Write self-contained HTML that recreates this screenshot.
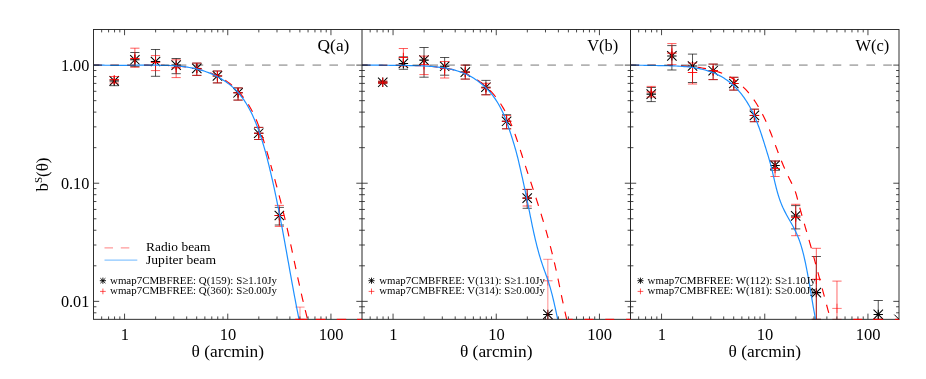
<!DOCTYPE html><html><head><meta charset="utf-8"><title>beam profiles</title>
<style>html,body{margin:0;padding:0;background:#fff}svg{display:block}text{font-family:"Liberation Serif",serif;fill:#000}svg{will-change:transform;opacity:.999}</style></head><body>
<svg width="926" height="379" viewBox="0 0 926 379">
<rect width="926" height="379" fill="#fff"/>
<defs>
<clipPath id="c0"><rect x="93.5" y="29.5" width="268.5" height="290.43"/></clipPath>
<clipPath id="c1"><rect x="362.0" y="29.5" width="268.5" height="290.43"/></clipPath>
<clipPath id="c2"><rect x="630.5" y="29.5" width="268.5" height="290.43"/></clipPath>
</defs>
<g clip-path="url(#c0)">
<path d="M114.24,79.90V85.70 M109.64,79.90H118.84 M109.64,85.70H118.84" fill="none" stroke="#000" stroke-width="0.9" stroke-opacity="0.75"/>
<path d="M109.54,80.90H118.94 M114.24,76.20V85.60 M109.54,76.20L118.94,85.60 M109.54,85.60L118.94,76.20" fill="none" stroke="#000" stroke-width="1.05"/>
<path d="M134.88,52.50V66.40 M130.28,52.50H139.48 M130.28,66.40H139.48" fill="none" stroke="#000" stroke-width="0.9" stroke-opacity="0.75"/>
<path d="M130.18,59.80H139.58 M134.88,55.10V64.50 M130.18,55.10L139.58,64.50 M130.18,64.50L139.58,55.10" fill="none" stroke="#000" stroke-width="1.05"/>
<path d="M155.52,49.50V76.30 M150.92,49.50H160.12 M150.92,76.30H160.12" fill="none" stroke="#000" stroke-width="0.9" stroke-opacity="0.75"/>
<path d="M150.82,61.50H160.22 M155.52,56.80V66.20 M150.82,56.80L160.22,66.20 M150.82,66.20L160.22,56.80" fill="none" stroke="#000" stroke-width="1.05"/>
<path d="M176.16,58.50V73.70 M171.56,58.50H180.75 M171.56,73.70H180.75" fill="none" stroke="#000" stroke-width="0.9" stroke-opacity="0.75"/>
<path d="M171.46,65.10H180.85 M176.16,60.40V69.80 M171.46,60.40L180.85,69.80 M171.46,69.80L180.85,60.40" fill="none" stroke="#000" stroke-width="1.05"/>
<path d="M196.79,63.10V75.40 M192.19,63.10H201.39 M192.19,75.40H201.39" fill="none" stroke="#000" stroke-width="0.9" stroke-opacity="0.75"/>
<path d="M192.09,68.40H201.49 M196.79,63.70V73.10 M192.09,63.70L201.49,73.10 M192.09,73.10L201.49,63.70" fill="none" stroke="#000" stroke-width="1.05"/>
<path d="M217.43,71.00V82.90 M212.83,71.00H222.03 M212.83,82.90H222.03" fill="none" stroke="#000" stroke-width="0.9" stroke-opacity="0.75"/>
<path d="M212.73,75.90H222.13 M217.43,71.20V80.60 M212.73,71.20L222.13,80.60 M212.73,80.60L222.13,71.20" fill="none" stroke="#000" stroke-width="1.05"/>
<path d="M238.07,87.90V100.10 M233.47,87.90H242.67 M233.47,100.10H242.67" fill="none" stroke="#000" stroke-width="0.9" stroke-opacity="0.75"/>
<path d="M233.37,92.80H242.77 M238.07,88.10V97.50 M233.37,88.10L242.77,97.50 M233.37,97.50L242.77,88.10" fill="none" stroke="#000" stroke-width="1.05"/>
<path d="M258.71,127.40V139.50 M254.11,127.40H263.31 M254.11,139.50H263.31" fill="none" stroke="#000" stroke-width="0.9" stroke-opacity="0.75"/>
<path d="M254.01,133.20H263.41 M258.71,128.50V137.90 M254.01,128.50L263.41,137.90 M254.01,137.90L263.41,128.50" fill="none" stroke="#000" stroke-width="1.05"/>
<path d="M279.35,207.40V225.00 M274.75,207.40H283.95 M274.75,225.00H283.95" fill="none" stroke="#000" stroke-width="0.9" stroke-opacity="0.75"/>
<path d="M274.65,215.50H284.05 M279.35,210.80V220.20 M274.65,210.80L284.05,220.20 M274.65,220.20L284.05,210.80" fill="none" stroke="#000" stroke-width="1.05"/>
<path d="M114.24,76.50V83.00 M109.64,76.50H118.84 M109.64,83.00H118.84" fill="none" stroke="#ff0000" stroke-width="0.9" stroke-opacity="0.7"/>
<path d="M109.54,79.70H118.94 M114.24,75.00V84.40" fill="none" stroke="#ff0000" stroke-width="0.9" stroke-opacity="1"/>
<path d="M134.88,48.20V67.30 M130.28,48.20H139.48 M130.28,67.30H139.48" fill="none" stroke="#ff0000" stroke-width="0.9" stroke-opacity="0.7"/>
<path d="M130.18,58.50H139.58 M134.88,53.80V63.20" fill="none" stroke="#ff0000" stroke-width="0.9" stroke-opacity="1"/>
<path d="M155.52,55.60V70.60 M150.92,55.60H160.12 M150.92,70.60H160.12" fill="none" stroke="#ff0000" stroke-width="0.9" stroke-opacity="0.7"/>
<path d="M150.82,62.40H160.22 M155.52,57.70V67.10" fill="none" stroke="#ff0000" stroke-width="0.9" stroke-opacity="1"/>
<path d="M176.16,59.80V77.60 M171.56,59.80H180.75 M171.56,77.60H180.75" fill="none" stroke="#ff0000" stroke-width="0.9" stroke-opacity="0.7"/>
<path d="M171.46,67.80H180.85 M176.16,63.10V72.50" fill="none" stroke="#ff0000" stroke-width="0.9" stroke-opacity="1"/>
<path d="M196.79,63.10V75.40 M192.19,63.10H201.39 M192.19,75.40H201.39" fill="none" stroke="#ff0000" stroke-width="0.9" stroke-opacity="0.7"/>
<path d="M192.09,68.40H201.49 M196.79,63.70V73.10" fill="none" stroke="#ff0000" stroke-width="0.9" stroke-opacity="1"/>
<path d="M217.43,71.00V82.90 M212.83,71.00H222.03 M212.83,82.90H222.03" fill="none" stroke="#ff0000" stroke-width="0.9" stroke-opacity="0.7"/>
<path d="M212.73,75.90H222.13 M217.43,71.20V80.60" fill="none" stroke="#ff0000" stroke-width="0.9" stroke-opacity="1"/>
<path d="M238.07,87.90V100.10 M233.47,87.90H242.67 M233.47,100.10H242.67" fill="none" stroke="#ff0000" stroke-width="0.9" stroke-opacity="0.7"/>
<path d="M233.37,92.80H242.77 M238.07,88.10V97.50" fill="none" stroke="#ff0000" stroke-width="0.9" stroke-opacity="1"/>
<path d="M258.71,127.40V139.50 M254.11,127.40H263.31 M254.11,139.50H263.31" fill="none" stroke="#ff0000" stroke-width="0.9" stroke-opacity="0.7"/>
<path d="M254.01,133.20H263.41 M258.71,128.50V137.90" fill="none" stroke="#ff0000" stroke-width="0.9" stroke-opacity="1"/>
<path d="M279.35,205.40V226.40 M274.75,205.40H283.95 M274.75,226.40H283.95" fill="none" stroke="#ff0000" stroke-width="0.9" stroke-opacity="0.7"/>
<path d="M274.65,215.50H284.05 M279.35,210.80V220.20" fill="none" stroke="#ff0000" stroke-width="0.9" stroke-opacity="1"/>
<path d="M299.98,307.10V319.30 M295.38,307.10H304.58 M295.38,319.30H304.58" fill="none" stroke="#ff0000" stroke-width="0.9" stroke-opacity="0.5"/>
<path d="M295.28,330.00H304.68 M299.98,325.30V334.70" fill="none" stroke="#ff0000" stroke-width="0.9" stroke-opacity="0.6"/>
<clipPath id="r0_0"><rect x="93.5" y="29.5" width="268.5" height="135.5"/></clipPath>
<path clip-path="url(#r0_0)" d="M93.50,65.10 L95.46,65.13 L97.42,65.16 L99.38,65.18 L101.35,65.20 L103.33,65.22 L105.31,65.24 L107.29,65.25 L109.28,65.26 L111.27,65.27 L113.27,65.27 L115.27,65.27 L117.27,65.28 L119.27,65.27 L121.28,65.27 L123.29,65.27 L125.31,65.26 L127.32,65.26 L129.34,65.25 L131.36,65.24 L133.38,65.23 L135.40,65.22 L137.42,65.21 L139.45,65.21 L141.47,65.20 L143.49,65.19 L145.52,65.19 L147.54,65.19 L149.57,65.20 L151.59,65.21 L153.61,65.22 L155.63,65.25 L157.65,65.27 L159.67,65.31 L161.69,65.35 L163.70,65.40 L165.72,65.46 L167.73,65.53 L169.74,65.61 L171.74,65.71 L173.74,65.83 L175.74,65.96 L177.74,66.11 L179.73,66.28 L181.71,66.47 L183.70,66.68 L185.68,66.92 L187.65,67.19 L189.62,67.48 L191.58,67.80 L193.54,68.16 L195.49,68.55 L197.44,68.98 L199.38,69.44 L201.32,69.94 L203.24,70.47 L205.15,71.05 L207.05,71.66 L208.93,72.32 L210.80,73.02 L212.65,73.75 L214.48,74.53 L216.28,75.36 L218.07,76.22 L219.82,77.13 L221.55,78.09 L223.26,79.09 L224.93,80.13 L226.56,81.22 L228.17,82.36 L229.74,83.55 L231.27,84.78 L232.78,86.05 L234.24,87.36 L235.68,88.71 L237.08,90.10 L238.44,91.53 L239.77,92.99 L241.06,94.48 L242.32,96.01 L243.55,97.56 L244.74,99.15 L245.89,100.76 L247.01,102.40 L248.10,104.07 L249.15,105.75 L250.16,107.46 L251.14,109.19 L252.08,110.93 L252.99,112.70 L253.87,114.48 L254.72,116.27 L255.53,118.09 L256.33,119.91 L257.09,121.75 L257.83,123.61 L258.55,125.47 L259.25,127.35 L259.93,129.23 L260.59,131.12 L261.23,133.03 L261.86,134.94 L262.48,136.85 L263.08,138.78 L263.68,140.70 L264.26,142.63 L264.84,144.57 L265.41,146.50 L265.98,148.44 L266.55,150.38 L267.11,152.32 L267.67,154.25 L268.23,156.19 L268.79,158.13 L269.35,160.07 L269.91,162.00 L270.46,163.94 L271.01,165.88 L271.56,167.81 L272.11,169.75 L272.65,171.69 L273.19,173.62 L273.73,175.56 L274.27,177.49 L274.80,179.43 L275.34,181.37 L275.86,183.30 L276.39,185.24 L276.91,187.17 L277.43,189.11 L277.95,191.05 L278.46,192.98 L278.97,194.92 L279.48,196.86 L279.98,198.79 L280.48,200.73 L280.97,202.66 L281.46,204.60 L281.95,206.54 L282.43,208.47 L282.91,210.41 L283.38,212.35 L283.85,214.28 L284.32,216.22 L284.78,218.16 L285.24,220.09 L285.70,222.03 L286.15,223.97 L286.59,225.91 L287.04,227.85 L287.48,229.78 L287.91,231.72 L288.34,233.66 L288.77,235.60 L289.20,237.54 L289.62,239.48 L290.04,241.42 L290.46,243.36 L290.88,245.30 L291.30,247.24 L291.71,249.18 L292.12,251.12 L292.53,253.06 L292.95,255.00 L293.36,256.94 L293.77,258.88 L294.18,260.83 L294.59,262.77 L295.00,264.71 L295.42,266.66 L295.83,268.60 L296.24,270.54 L296.66,272.49 L297.08,274.43 L297.50,276.38 L297.92,278.33 L298.34,280.27 L298.77,282.22 L299.20,284.17 L299.63,286.11 L300.06,288.06 L300.50,290.01 L300.94,291.96 L301.38,293.91 L301.83,295.86 L302.28,297.81 L302.74,299.76 L303.20,301.71 L303.66,303.66 L304.13,305.62 L304.60,307.57 L305.08,309.52 L305.56,311.48 L306.05,313.43 L306.54,315.39 L307.04,317.34 L307.55,319.30" fill="none" stroke="#ff0000" stroke-width="1.15" stroke-dasharray="8.5 8.3" stroke-dashoffset="0"/>
<clipPath id="r0_1"><rect x="93.5" y="165" width="268.5" height="155.32999999999998"/></clipPath>
<path clip-path="url(#r0_1)" d="M93.50,65.10 L95.46,65.13 L97.42,65.16 L99.38,65.18 L101.35,65.20 L103.33,65.22 L105.31,65.24 L107.29,65.25 L109.28,65.26 L111.27,65.27 L113.27,65.27 L115.27,65.27 L117.27,65.28 L119.27,65.27 L121.28,65.27 L123.29,65.27 L125.31,65.26 L127.32,65.26 L129.34,65.25 L131.36,65.24 L133.38,65.23 L135.40,65.22 L137.42,65.21 L139.45,65.21 L141.47,65.20 L143.49,65.19 L145.52,65.19 L147.54,65.19 L149.57,65.20 L151.59,65.21 L153.61,65.22 L155.63,65.25 L157.65,65.27 L159.67,65.31 L161.69,65.35 L163.70,65.40 L165.72,65.46 L167.73,65.53 L169.74,65.61 L171.74,65.71 L173.74,65.83 L175.74,65.96 L177.74,66.11 L179.73,66.28 L181.71,66.47 L183.70,66.68 L185.68,66.92 L187.65,67.19 L189.62,67.48 L191.58,67.80 L193.54,68.16 L195.49,68.55 L197.44,68.98 L199.38,69.44 L201.32,69.94 L203.24,70.47 L205.15,71.05 L207.05,71.66 L208.93,72.32 L210.80,73.02 L212.65,73.75 L214.48,74.53 L216.28,75.36 L218.07,76.22 L219.82,77.13 L221.55,78.09 L223.26,79.09 L224.93,80.13 L226.56,81.22 L228.17,82.36 L229.74,83.55 L231.27,84.78 L232.78,86.05 L234.24,87.36 L235.68,88.71 L237.08,90.10 L238.44,91.53 L239.77,92.99 L241.06,94.48 L242.32,96.01 L243.55,97.56 L244.74,99.15 L245.89,100.76 L247.01,102.40 L248.10,104.07 L249.15,105.75 L250.16,107.46 L251.14,109.19 L252.08,110.93 L252.99,112.70 L253.87,114.48 L254.72,116.27 L255.53,118.09 L256.33,119.91 L257.09,121.75 L257.83,123.61 L258.55,125.47 L259.25,127.35 L259.93,129.23 L260.59,131.12 L261.23,133.03 L261.86,134.94 L262.48,136.85 L263.08,138.78 L263.68,140.70 L264.26,142.63 L264.84,144.57 L265.41,146.50 L265.98,148.44 L266.55,150.38 L267.11,152.32 L267.67,154.25 L268.23,156.19 L268.79,158.13 L269.35,160.07 L269.91,162.00 L270.46,163.94 L271.01,165.88 L271.56,167.81 L272.11,169.75 L272.65,171.69 L273.19,173.62 L273.73,175.56 L274.27,177.49 L274.80,179.43 L275.34,181.37 L275.86,183.30 L276.39,185.24 L276.91,187.17 L277.43,189.11 L277.95,191.05 L278.46,192.98 L278.97,194.92 L279.48,196.86 L279.98,198.79 L280.48,200.73 L280.97,202.66 L281.46,204.60 L281.95,206.54 L282.43,208.47 L282.91,210.41 L283.38,212.35 L283.85,214.28 L284.32,216.22 L284.78,218.16 L285.24,220.09 L285.70,222.03 L286.15,223.97 L286.59,225.91 L287.04,227.85 L287.48,229.78 L287.91,231.72 L288.34,233.66 L288.77,235.60 L289.20,237.54 L289.62,239.48 L290.04,241.42 L290.46,243.36 L290.88,245.30 L291.30,247.24 L291.71,249.18 L292.12,251.12 L292.53,253.06 L292.95,255.00 L293.36,256.94 L293.77,258.88 L294.18,260.83 L294.59,262.77 L295.00,264.71 L295.42,266.66 L295.83,268.60 L296.24,270.54 L296.66,272.49 L297.08,274.43 L297.50,276.38 L297.92,278.33 L298.34,280.27 L298.77,282.22 L299.20,284.17 L299.63,286.11 L300.06,288.06 L300.50,290.01 L300.94,291.96 L301.38,293.91 L301.83,295.86 L302.28,297.81 L302.74,299.76 L303.20,301.71 L303.66,303.66 L304.13,305.62 L304.60,307.57 L305.08,309.52 L305.56,311.48 L306.05,313.43 L306.54,315.39 L307.04,317.34 L307.55,319.30" fill="none" stroke="#ff0000" stroke-width="1.15" stroke-dasharray="8.5 8.3" stroke-dashoffset="4.5"/>
<path d="M93.50,65.10 L95.50,65.13 L97.49,65.16 L99.48,65.18 L101.47,65.21 L103.45,65.22 L105.43,65.24 L107.41,65.26 L109.39,65.27 L111.37,65.28 L113.35,65.28 L115.33,65.29 L117.30,65.29 L119.28,65.29 L121.26,65.29 L123.25,65.29 L125.23,65.28 L127.22,65.28 L129.21,65.27 L131.21,65.26 L133.21,65.25 L135.21,65.23 L137.22,65.22 L139.23,65.21 L141.24,65.20 L143.26,65.19 L145.28,65.18 L147.30,65.17 L149.32,65.17 L151.34,65.17 L153.36,65.18 L155.39,65.20 L157.41,65.22 L159.43,65.24 L161.45,65.28 L163.47,65.32 L165.49,65.38 L167.50,65.44 L169.52,65.52 L171.52,65.62 L173.53,65.73 L175.53,65.87 L177.53,66.02 L179.52,66.20 L181.51,66.40 L183.49,66.62 L185.46,66.88 L187.43,67.16 L189.39,67.48 L191.35,67.82 L193.29,68.21 L195.23,68.62 L197.16,69.08 L199.08,69.58 L200.99,70.11 L202.89,70.69 L204.78,71.30 L206.65,71.95 L208.51,72.65 L210.34,73.38 L212.16,74.16 L213.96,74.97 L215.74,75.83 L217.50,76.72 L219.23,77.65 L220.94,78.63 L222.62,79.64 L224.27,80.70 L225.90,81.80 L227.49,82.93 L229.05,84.11 L230.58,85.33 L232.07,86.58 L233.52,87.88 L234.94,89.22 L236.32,90.60 L237.66,92.02 L238.96,93.49 L240.21,94.99 L241.43,96.52 L242.61,98.10 L243.75,99.70 L244.86,101.34 L245.93,103.01 L246.97,104.70 L247.98,106.42 L248.95,108.17 L249.90,109.94 L250.82,111.73 L251.71,113.54 L252.57,115.36 L253.41,117.20 L254.22,119.06 L255.01,120.92 L255.78,122.80 L256.53,124.68 L257.26,126.57 L257.97,128.47 L258.66,130.37 L259.33,132.27 L259.99,134.17 L260.64,136.08 L261.27,137.98 L261.88,139.90 L262.48,141.81 L263.07,143.73 L263.64,145.64 L264.21,147.56 L264.76,149.49 L265.30,151.41 L265.83,153.34 L266.35,155.26 L266.86,157.19 L267.36,159.12 L267.85,161.06 L268.34,162.99 L268.82,164.93 L269.29,166.86 L269.76,168.80 L270.22,170.74 L270.68,172.67 L271.13,174.61 L271.58,176.55 L272.03,178.50 L272.47,180.44 L272.90,182.38 L273.33,184.32 L273.76,186.27 L274.18,188.21 L274.60,190.16 L275.02,192.10 L275.43,194.05 L275.84,196.00 L276.24,197.95 L276.65,199.90 L277.05,201.84 L277.44,203.79 L277.83,205.74 L278.22,207.70 L278.61,209.65 L279.00,211.60 L279.38,213.55 L279.76,215.50 L280.13,217.46 L280.51,219.41 L280.88,221.37 L281.25,223.32 L281.62,225.28 L281.99,227.23 L282.35,229.19 L282.72,231.14 L283.08,233.10 L283.44,235.06 L283.80,237.02 L284.15,238.97 L284.51,240.93 L284.87,242.89 L285.22,244.85 L285.57,246.81 L285.93,248.77 L286.28,250.73 L286.63,252.68 L286.98,254.64 L287.33,256.60 L287.68,258.56 L288.03,260.52 L288.39,262.48 L288.74,264.44 L289.09,266.40 L289.44,268.36 L289.79,270.32 L290.14,272.28 L290.49,274.24 L290.85,276.21 L291.20,278.17 L291.56,280.13 L291.91,282.09 L292.27,284.05 L292.63,286.01 L292.99,287.97 L293.35,289.93 L293.71,291.89 L294.07,293.85 L294.44,295.80 L294.81,297.76 L295.18,299.72 L295.55,301.68 L295.92,303.64 L296.30,305.60 L296.68,307.56 L297.06,309.52 L297.44,311.47 L297.83,313.43 L298.22,315.39 L298.61,317.34 L299.00,319.30" fill="none" stroke="#1e90ff" stroke-width="1.2"/>
<line x1="93.5" y1="65.1" x2="362.0" y2="65.1" stroke="#000" stroke-opacity="0.3" stroke-width="1.6" stroke-dasharray="8.6 8.25"/>
</g>
<g clip-path="url(#c1)">
<path d="M382.74,81.30V83.40 M378.14,81.30H387.34 M378.14,83.40H387.34" fill="none" stroke="#000" stroke-width="0.9" stroke-opacity="0.75"/>
<path d="M378.04,82.30H387.44 M382.74,77.60V87.00 M378.04,77.60L387.44,87.00 M378.04,87.00L387.44,77.60" fill="none" stroke="#000" stroke-width="1.05"/>
<path d="M403.38,56.80V69.30 M398.78,56.80H407.98 M398.78,69.30H407.98" fill="none" stroke="#000" stroke-width="0.9" stroke-opacity="0.75"/>
<path d="M398.68,63.40H408.08 M403.38,58.70V68.10 M398.68,58.70L408.08,68.10 M398.68,68.10L408.08,58.70" fill="none" stroke="#000" stroke-width="1.05"/>
<path d="M424.02,47.50V77.20 M419.42,47.50H428.62 M419.42,77.20H428.62" fill="none" stroke="#000" stroke-width="0.9" stroke-opacity="0.75"/>
<path d="M419.32,60.10H428.72 M424.02,55.40V64.80 M419.32,55.40L428.72,64.80 M419.32,64.80L428.72,55.40" fill="none" stroke="#000" stroke-width="1.05"/>
<path d="M444.65,57.50V75.20 M440.05,57.50H449.25 M440.05,75.20H449.25" fill="none" stroke="#000" stroke-width="0.9" stroke-opacity="0.75"/>
<path d="M439.95,66.30H449.35 M444.65,61.60V71.00 M439.95,61.60L449.35,71.00 M439.95,71.00L449.35,61.60" fill="none" stroke="#000" stroke-width="1.05"/>
<path d="M465.29,65.10V79.10 M460.69,65.10H469.89 M460.69,79.10H469.89" fill="none" stroke="#000" stroke-width="0.9" stroke-opacity="0.75"/>
<path d="M460.59,72.10H469.99 M465.29,67.40V76.80 M460.59,67.40L469.99,76.80 M460.59,76.80L469.99,67.40" fill="none" stroke="#000" stroke-width="1.05"/>
<path d="M485.93,80.40V94.70 M481.33,80.40H490.53 M481.33,94.70H490.53" fill="none" stroke="#000" stroke-width="0.9" stroke-opacity="0.75"/>
<path d="M481.23,87.20H490.63 M485.93,82.50V91.90 M481.23,82.50L490.63,91.90 M481.23,91.90L490.63,82.50" fill="none" stroke="#000" stroke-width="1.05"/>
<path d="M506.57,114.70V128.80 M501.97,114.70H511.17 M501.97,128.80H511.17" fill="none" stroke="#000" stroke-width="0.9" stroke-opacity="0.75"/>
<path d="M501.87,121.30H511.27 M506.57,116.60V126.00 M501.87,116.60L511.27,126.00 M501.87,126.00L511.27,116.60" fill="none" stroke="#000" stroke-width="1.05"/>
<path d="M527.21,189.50V208.30 M522.61,189.50H531.81 M522.61,208.30H531.81" fill="none" stroke="#000" stroke-width="0.9" stroke-opacity="0.75"/>
<path d="M522.51,198.10H531.91 M527.21,193.40V202.80 M522.51,193.40L531.91,202.80 M522.51,202.80L531.91,193.40" fill="none" stroke="#000" stroke-width="1.05"/>
<path d="M543.14,314.40H552.55 M547.85,309.70V319.10 M543.14,309.70L552.55,319.10 M543.14,319.10L552.55,309.70" fill="none" stroke="#000" stroke-width="1.05"/>
<path d="M382.74,81.10V83.60 M378.14,81.10H387.34 M378.14,83.60H387.34" fill="none" stroke="#ff0000" stroke-width="0.9" stroke-opacity="0.7"/>
<path d="M378.04,82.30H387.44 M382.74,77.60V87.00" fill="none" stroke="#ff0000" stroke-width="0.9" stroke-opacity="1"/>
<path d="M403.38,48.50V66.00 M398.78,48.50H407.98 M398.78,66.00H407.98" fill="none" stroke="#ff0000" stroke-width="0.9" stroke-opacity="0.7"/>
<path d="M398.68,57.50H408.08 M403.38,52.80V62.20" fill="none" stroke="#ff0000" stroke-width="0.9" stroke-opacity="1"/>
<path d="M424.02,56.10V74.60 M419.42,56.10H428.62 M419.42,74.60H428.62" fill="none" stroke="#ff0000" stroke-width="0.9" stroke-opacity="0.7"/>
<path d="M419.32,64.70H428.72 M424.02,60.00V69.40" fill="none" stroke="#ff0000" stroke-width="0.9" stroke-opacity="1"/>
<path d="M444.65,61.50V78.00 M440.05,61.50H449.25 M440.05,78.00H449.25" fill="none" stroke="#ff0000" stroke-width="0.9" stroke-opacity="0.7"/>
<path d="M439.95,68.50H449.35 M444.65,63.80V73.20" fill="none" stroke="#ff0000" stroke-width="0.9" stroke-opacity="1"/>
<path d="M465.29,65.10V79.10 M460.69,65.10H469.89 M460.69,79.10H469.89" fill="none" stroke="#ff0000" stroke-width="0.9" stroke-opacity="0.7"/>
<path d="M460.59,72.10H469.99 M465.29,67.40V76.80" fill="none" stroke="#ff0000" stroke-width="0.9" stroke-opacity="1"/>
<path d="M485.93,83.30V94.90 M481.33,83.30H490.53 M481.33,94.90H490.53" fill="none" stroke="#ff0000" stroke-width="0.9" stroke-opacity="0.7"/>
<path d="M481.23,88.00H490.63 M485.93,83.30V92.70" fill="none" stroke="#ff0000" stroke-width="0.9" stroke-opacity="1"/>
<path d="M506.57,115.50V128.80 M501.97,115.50H511.17 M501.97,128.80H511.17" fill="none" stroke="#ff0000" stroke-width="0.9" stroke-opacity="0.7"/>
<path d="M501.87,121.30H511.27 M506.57,116.60V126.00" fill="none" stroke="#ff0000" stroke-width="0.9" stroke-opacity="1"/>
<path d="M527.21,189.30V206.00 M522.61,189.30H531.81 M522.61,206.00H531.81" fill="none" stroke="#ff0000" stroke-width="0.9" stroke-opacity="0.7"/>
<path d="M522.51,198.10H531.91 M527.21,193.40V202.80" fill="none" stroke="#ff0000" stroke-width="0.9" stroke-opacity="1"/>
<path d="M547.85,259.30V319.30 M543.25,259.30H552.45 M543.25,319.30H552.45" fill="none" stroke="#ff0000" stroke-width="0.9" stroke-opacity="0.5"/>
<path d="M543.14,280.80H552.55 M547.85,276.10V285.50" fill="none" stroke="#ff0000" stroke-width="0.9" stroke-opacity="0.6"/>
<clipPath id="r1_0"><rect x="362.0" y="29.5" width="268.5" height="290.83"/></clipPath>
<path clip-path="url(#r1_0)" d="M362.00,65.10 L363.99,65.15 L365.98,65.19 L367.97,65.23 L369.97,65.25 L371.96,65.28 L373.95,65.29 L375.95,65.30 L377.94,65.31 L379.94,65.31 L381.93,65.31 L383.93,65.31 L385.92,65.31 L387.92,65.30 L389.92,65.30 L391.92,65.30 L393.92,65.29 L395.92,65.30 L397.92,65.30 L399.92,65.31 L401.92,65.32 L403.92,65.33 L405.92,65.36 L407.93,65.39 L409.93,65.42 L411.93,65.47 L413.94,65.52 L415.95,65.58 L417.95,65.65 L419.96,65.73 L421.97,65.83 L423.98,65.93 L425.99,66.05 L428.00,66.18 L430.01,66.33 L432.02,66.49 L434.03,66.68 L436.03,66.88 L438.03,67.10 L440.03,67.35 L442.02,67.62 L444.00,67.92 L445.97,68.25 L447.94,68.61 L449.89,69.00 L451.83,69.42 L453.76,69.88 L455.68,70.38 L457.58,70.91 L459.47,71.49 L461.34,72.11 L463.19,72.77 L465.03,73.48 L466.84,74.24 L468.64,75.05 L470.41,75.91 L472.16,76.82 L473.88,77.78 L475.58,78.80 L477.26,79.87 L478.90,80.99 L480.52,82.16 L482.11,83.37 L483.67,84.62 L485.20,85.92 L486.70,87.25 L488.16,88.63 L489.59,90.04 L490.99,91.48 L492.34,92.95 L493.66,94.46 L494.95,95.99 L496.19,97.55 L497.39,99.13 L498.56,100.74 L499.69,102.37 L500.78,104.02 L501.84,105.69 L502.86,107.38 L503.86,109.09 L504.82,110.83 L505.76,112.57 L506.67,114.34 L507.55,116.12 L508.40,117.92 L509.24,119.73 L510.04,121.55 L510.83,123.39 L511.60,125.24 L512.35,127.10 L513.08,128.97 L513.79,130.85 L514.49,132.73 L515.17,134.63 L515.84,136.53 L516.50,138.44 L517.15,140.35 L517.79,142.26 L518.42,144.18 L519.05,146.10 L519.67,148.03 L520.28,149.95 L520.89,151.87 L521.51,153.79 L522.12,155.71 L522.73,157.63 L523.34,159.54 L523.96,161.45 L524.57,163.36 L525.19,165.26 L525.81,167.16 L526.44,169.06 L527.06,170.95 L527.68,172.85 L528.31,174.74 L528.94,176.63 L529.56,178.51 L530.19,180.40 L530.81,182.29 L531.44,184.17 L532.06,186.05 L532.68,187.94 L533.31,189.82 L533.93,191.71 L534.55,193.59 L535.17,195.48 L535.78,197.37 L536.40,199.25 L537.01,201.14 L537.62,203.04 L538.22,204.93 L538.83,206.83 L539.42,208.73 L540.02,210.63 L540.61,212.53 L541.20,214.44 L541.79,216.35 L542.37,218.26 L542.95,220.17 L543.52,222.08 L544.09,224.00 L544.66,225.92 L545.22,227.84 L545.77,229.76 L546.33,231.69 L546.87,233.62 L547.41,235.54 L547.95,237.47 L548.48,239.41 L549.01,241.34 L549.53,243.27 L550.05,245.21 L550.56,247.15 L551.06,249.09 L551.56,251.03 L552.05,252.97 L552.54,254.91 L553.02,256.85 L553.49,258.80 L553.96,260.75 L554.42,262.69 L554.88,264.64 L555.33,266.59 L555.77,268.54 L556.20,270.49 L556.63,272.44 L557.05,274.39 L557.47,276.34 L557.89,278.29 L558.30,280.25 L558.71,282.20 L559.11,284.15 L559.52,286.10 L559.92,288.06 L560.33,290.01 L560.73,291.97 L561.13,293.92 L561.54,295.87 L561.94,297.83 L562.35,299.78 L562.76,301.74 L563.18,303.69 L563.60,305.64 L564.02,307.59 L564.45,309.55 L564.89,311.50 L565.33,313.45 L565.78,315.40 L566.24,317.35 L566.70,319.30" fill="none" stroke="#ff0000" stroke-width="1.15" stroke-dasharray="8.5 8.3" stroke-dashoffset="0"/>
<path d="M362.00,65.10 L364.00,65.10 L366.01,65.11 L368.01,65.12 L370.02,65.12 L372.02,65.14 L374.02,65.15 L376.02,65.16 L378.02,65.18 L380.02,65.19 L382.02,65.21 L384.02,65.23 L386.02,65.25 L388.01,65.27 L390.01,65.29 L392.01,65.31 L394.00,65.34 L396.00,65.36 L398.00,65.38 L399.99,65.40 L401.99,65.43 L403.98,65.45 L405.98,65.47 L407.98,65.50 L409.97,65.53 L411.97,65.56 L413.96,65.60 L415.96,65.65 L417.95,65.71 L419.95,65.77 L421.94,65.85 L423.94,65.95 L425.94,66.05 L427.93,66.17 L429.93,66.31 L431.93,66.47 L433.92,66.64 L435.92,66.84 L437.92,67.06 L439.91,67.30 L441.91,67.58 L443.89,67.87 L445.87,68.21 L447.85,68.57 L449.81,68.97 L451.77,69.41 L453.71,69.89 L455.63,70.41 L457.55,70.97 L459.44,71.59 L461.32,72.25 L463.18,72.96 L465.02,73.72 L466.83,74.55 L468.63,75.42 L470.39,76.35 L472.13,77.33 L473.84,78.36 L475.52,79.44 L477.17,80.57 L478.79,81.75 L480.37,82.97 L481.92,84.23 L483.43,85.54 L484.90,86.88 L486.33,88.27 L487.72,89.69 L489.07,91.15 L490.38,92.65 L491.64,94.18 L492.87,95.74 L494.06,97.33 L495.21,98.95 L496.32,100.59 L497.39,102.27 L498.42,103.97 L499.41,105.69 L500.36,107.44 L501.27,109.20 L502.14,110.99 L502.98,112.79 L503.78,114.61 L504.55,116.44 L505.29,118.29 L506.01,120.15 L506.71,122.02 L507.39,123.90 L508.05,125.79 L508.70,127.69 L509.34,129.59 L509.97,131.49 L510.60,133.40 L511.23,135.31 L511.84,137.22 L512.45,139.14 L513.04,141.06 L513.63,142.99 L514.21,144.91 L514.77,146.84 L515.33,148.77 L515.87,150.71 L516.40,152.64 L516.91,154.58 L517.41,156.52 L517.90,158.46 L518.37,160.41 L518.83,162.35 L519.28,164.30 L519.72,166.25 L520.17,168.20 L520.61,170.15 L521.06,172.10 L521.50,174.06 L521.94,176.01 L522.38,177.97 L522.81,179.92 L523.24,181.88 L523.67,183.83 L524.10,185.79 L524.52,187.75 L524.93,189.71 L525.34,191.66 L525.75,193.62 L526.16,195.58 L526.57,197.53 L526.97,199.49 L527.37,201.44 L527.76,203.40 L528.16,205.35 L528.56,207.30 L528.95,209.26 L529.34,211.21 L529.73,213.16 L530.12,215.10 L530.52,217.05 L530.91,218.99 L531.30,220.94 L531.70,222.88 L532.10,224.82 L532.50,226.76 L532.91,228.70 L533.33,230.63 L533.75,232.57 L534.18,234.50 L534.61,236.44 L535.06,238.37 L535.51,240.30 L535.98,242.23 L536.45,244.16 L536.94,246.09 L537.44,248.02 L537.95,249.95 L538.48,251.88 L539.02,253.81 L539.58,255.73 L540.16,257.66 L540.75,259.58 L541.36,261.51 L541.99,263.43 L542.64,265.36 L543.31,267.28 L543.99,269.21 L544.68,271.13 L545.37,273.05 L546.06,274.98 L546.74,276.90 L547.41,278.82 L548.06,280.75 L548.68,282.67 L549.29,284.59 L549.87,286.52 L550.43,288.44 L550.97,290.37 L551.49,292.29 L552.00,294.22 L552.49,296.14 L552.97,298.07 L553.43,300.00 L553.88,301.92 L554.33,303.85 L554.76,305.78 L555.19,307.71 L555.62,309.64 L556.04,311.57 L556.45,313.50 L556.87,315.43 L557.28,317.37 L557.70,319.30" fill="none" stroke="#1e90ff" stroke-width="1.2"/>
<line x1="362.0" y1="65.1" x2="630.5" y2="65.1" stroke="#000" stroke-opacity="0.3" stroke-width="1.6" stroke-dasharray="8.6 8.25"/>
</g>
<g clip-path="url(#c2)">
<path d="M651.24,87.50V101.60 M646.64,87.50H655.84 M646.64,101.60H655.84" fill="none" stroke="#000" stroke-width="0.9" stroke-opacity="0.75"/>
<path d="M646.54,94.10H655.94 M651.24,89.40V98.80 M646.54,89.40L655.94,98.80 M646.54,98.80L655.94,89.40" fill="none" stroke="#000" stroke-width="1.05"/>
<path d="M671.88,45.60V70.00 M667.28,45.60H676.48 M667.28,70.00H676.48" fill="none" stroke="#000" stroke-width="0.9" stroke-opacity="0.75"/>
<path d="M667.18,55.90H676.58 M671.88,51.20V60.60 M667.18,51.20L676.58,60.60 M667.18,60.60L676.58,51.20" fill="none" stroke="#000" stroke-width="1.05"/>
<path d="M692.52,54.10V82.50 M687.92,54.10H697.12 M687.92,82.50H697.12" fill="none" stroke="#000" stroke-width="0.9" stroke-opacity="0.75"/>
<path d="M687.82,66.00H697.22 M692.52,61.30V70.70 M687.82,61.30L697.22,70.70 M687.82,70.70L697.22,61.30" fill="none" stroke="#000" stroke-width="1.05"/>
<path d="M713.15,64.10V79.60 M708.55,64.10H717.75 M708.55,79.60H717.75" fill="none" stroke="#000" stroke-width="0.9" stroke-opacity="0.75"/>
<path d="M708.45,70.70H717.86 M713.15,66.00V75.40 M708.45,66.00L717.86,75.40 M708.45,75.40L717.86,66.00" fill="none" stroke="#000" stroke-width="1.05"/>
<path d="M733.79,77.30V90.10 M729.19,77.30H738.39 M729.19,90.10H738.39" fill="none" stroke="#000" stroke-width="0.9" stroke-opacity="0.75"/>
<path d="M729.09,83.50H738.49 M733.79,78.80V88.20 M729.09,78.80L738.49,88.20 M729.09,88.20L738.49,78.80" fill="none" stroke="#000" stroke-width="1.05"/>
<path d="M754.43,109.20V121.70 M749.83,109.20H759.03 M749.83,121.70H759.03" fill="none" stroke="#000" stroke-width="0.9" stroke-opacity="0.75"/>
<path d="M749.73,115.40H759.13 M754.43,110.70V120.10 M749.73,110.70L759.13,120.10 M749.73,120.10L759.13,110.70" fill="none" stroke="#000" stroke-width="1.05"/>
<path d="M775.07,161.00V170.30 M770.47,161.00H779.67 M770.47,170.30H779.67" fill="none" stroke="#000" stroke-width="0.9" stroke-opacity="0.75"/>
<path d="M770.37,165.40H779.77 M775.07,160.70V170.10 M770.37,160.70L779.77,170.10 M770.37,170.10L779.77,160.70" fill="none" stroke="#000" stroke-width="1.05"/>
<path d="M795.71,205.60V228.90 M791.11,205.60H800.31 M791.11,228.90H800.31" fill="none" stroke="#000" stroke-width="0.9" stroke-opacity="0.75"/>
<path d="M791.01,215.90H800.41 M795.71,211.20V220.60 M791.01,211.20L800.41,220.60 M791.01,220.60L800.41,211.20" fill="none" stroke="#000" stroke-width="1.05"/>
<path d="M816.34,256.50V319.30 M811.74,256.50H820.94 M811.74,319.30H820.94" fill="none" stroke="#000" stroke-width="0.9" stroke-opacity="0.75"/>
<path d="M811.64,292.60H821.04 M816.34,287.90V297.30 M811.64,287.90L821.04,297.30 M811.64,297.30L821.04,287.90" fill="none" stroke="#000" stroke-width="1.05"/>
<path d="M878.26,300.50V319.30 M873.66,300.50H882.86 M873.66,319.30H882.86" fill="none" stroke="#000" stroke-width="0.9" stroke-opacity="0.75"/>
<path d="M873.56,314.40H882.96 M878.26,309.70V319.10 M873.56,309.70L882.96,319.10 M873.56,319.10L882.96,309.70" fill="none" stroke="#000" stroke-width="1.05"/>
<path d="M651.24,86.40V97.00 M646.64,86.40H655.84 M646.64,97.00H655.84" fill="none" stroke="#ff0000" stroke-width="0.9" stroke-opacity="0.7"/>
<path d="M646.54,92.00H655.94 M651.24,87.30V96.70" fill="none" stroke="#ff0000" stroke-width="0.9" stroke-opacity="1"/>
<path d="M671.88,43.60V64.70 M667.28,43.60H676.48 M667.28,64.70H676.48" fill="none" stroke="#ff0000" stroke-width="0.9" stroke-opacity="0.7"/>
<path d="M667.18,53.10H676.58 M671.88,48.40V57.80" fill="none" stroke="#ff0000" stroke-width="0.9" stroke-opacity="1"/>
<path d="M692.52,63.00V84.00 M687.92,63.00H697.12 M687.92,84.00H697.12" fill="none" stroke="#ff0000" stroke-width="0.9" stroke-opacity="0.7"/>
<path d="M687.82,72.50H697.22 M692.52,67.80V77.20" fill="none" stroke="#ff0000" stroke-width="0.9" stroke-opacity="1"/>
<path d="M713.15,64.10V79.60 M708.55,64.10H717.75 M708.55,79.60H717.75" fill="none" stroke="#ff0000" stroke-width="0.9" stroke-opacity="0.7"/>
<path d="M708.45,70.70H717.86 M713.15,66.00V75.40" fill="none" stroke="#ff0000" stroke-width="0.9" stroke-opacity="1"/>
<path d="M733.79,77.30V90.10 M729.19,77.30H738.39 M729.19,90.10H738.39" fill="none" stroke="#ff0000" stroke-width="0.9" stroke-opacity="0.7"/>
<path d="M729.09,83.50H738.49 M733.79,78.80V88.20" fill="none" stroke="#ff0000" stroke-width="0.9" stroke-opacity="1"/>
<path d="M754.43,109.20V121.70 M749.83,109.20H759.03 M749.83,121.70H759.03" fill="none" stroke="#ff0000" stroke-width="0.9" stroke-opacity="0.7"/>
<path d="M749.73,115.40H759.13 M754.43,110.70V120.10" fill="none" stroke="#ff0000" stroke-width="0.9" stroke-opacity="1"/>
<path d="M775.07,161.00V176.50 M770.47,161.00H779.67 M770.47,176.50H779.67" fill="none" stroke="#ff0000" stroke-width="0.9" stroke-opacity="0.7"/>
<path d="M770.37,168.50H779.77 M775.07,163.80V173.20" fill="none" stroke="#ff0000" stroke-width="0.9" stroke-opacity="1"/>
<path d="M795.71,204.30V235.70 M791.11,204.30H800.31 M791.11,235.70H800.31" fill="none" stroke="#ff0000" stroke-width="0.9" stroke-opacity="0.7"/>
<path d="M791.01,217.30H800.41 M795.71,212.60V222.00" fill="none" stroke="#ff0000" stroke-width="0.9" stroke-opacity="1"/>
<path d="M816.34,248.30V319.30 M811.74,248.30H820.94 M811.74,319.30H820.94" fill="none" stroke="#ff0000" stroke-width="0.9" stroke-opacity="0.7"/>
<path d="M811.64,279.30H821.04 M816.34,274.60V284.00" fill="none" stroke="#ff0000" stroke-width="0.9" stroke-opacity="1"/>
<path d="M836.98,281.10V319.30 M832.38,281.10H841.58 M832.38,319.30H841.58" fill="none" stroke="#ff0000" stroke-width="0.9" stroke-opacity="0.65"/>
<path d="M832.28,308.40H841.68 M836.98,303.70V313.10" fill="none" stroke="#ff0000" stroke-width="0.9" stroke-opacity="0.6"/>
<clipPath id="r2_0"><rect x="630.5" y="29.5" width="268.5" height="290.83"/></clipPath>
<path clip-path="url(#r2_0)" d="M630.50,65.10 L632.52,65.18 L634.53,65.24 L636.54,65.30 L638.55,65.34 L640.54,65.37 L642.54,65.40 L644.53,65.42 L646.51,65.43 L648.49,65.43 L650.47,65.44 L652.45,65.44 L654.42,65.44 L656.39,65.44 L658.36,65.44 L660.33,65.44 L662.30,65.44 L664.27,65.45 L666.23,65.46 L668.20,65.49 L670.17,65.51 L672.14,65.55 L674.11,65.60 L676.09,65.66 L678.06,65.73 L680.04,65.81 L682.02,65.91 L684.01,66.03 L686.00,66.16 L687.99,66.31 L689.99,66.48 L691.99,66.67 L694.00,66.88 L696.01,67.11 L698.02,67.37 L700.03,67.66 L702.04,67.97 L704.04,68.31 L706.04,68.69 L708.03,69.10 L710.00,69.54 L711.96,70.03 L713.91,70.55 L715.84,71.11 L717.75,71.71 L719.64,72.35 L721.50,73.05 L723.34,73.78 L725.16,74.57 L726.94,75.41 L728.69,76.30 L730.41,77.24 L732.09,78.24 L733.73,79.29 L735.34,80.40 L736.92,81.56 L738.46,82.77 L739.96,84.02 L741.43,85.32 L742.87,86.67 L744.27,88.05 L745.64,89.47 L746.97,90.94 L748.28,92.43 L749.55,93.96 L750.79,95.52 L752.00,97.11 L753.18,98.73 L754.33,100.38 L755.45,102.04 L756.54,103.73 L757.60,105.44 L758.63,107.16 L759.63,108.90 L760.61,110.65 L761.56,112.41 L762.48,114.19 L763.38,115.97 L764.24,117.75 L765.09,119.54 L765.92,121.34 L766.72,123.15 L767.50,124.95 L768.27,126.77 L769.03,128.59 L769.76,130.41 L770.49,132.23 L771.21,134.06 L771.91,135.90 L772.61,137.73 L773.30,139.57 L773.99,141.41 L774.68,143.26 L775.36,145.10 L776.05,146.95 L776.74,148.80 L777.43,150.64 L778.13,152.49 L778.83,154.34 L779.54,156.19 L780.27,158.04 L781.00,159.89 L781.75,161.74 L782.51,163.59 L783.28,165.44 L784.08,167.29 L784.89,169.14 L785.72,170.99 L786.57,172.85 L787.44,174.70 L788.34,176.55 L789.26,178.41 L790.19,180.26 L791.12,182.12 L792.02,183.98 L792.90,185.84 L793.74,187.69 L794.52,189.56 L795.24,191.42 L795.87,193.28 L796.43,195.14 L796.95,197.01 L797.43,198.88 L797.92,200.74 L798.41,202.61 L798.91,204.49 L799.41,206.36 L799.92,208.23 L800.44,210.11 L800.96,211.99 L801.49,213.87 L802.02,215.75 L802.56,217.63 L803.10,219.52 L803.64,221.41 L804.19,223.30 L804.73,225.19 L805.28,227.08 L805.83,228.98 L806.38,230.88 L806.93,232.78 L807.48,234.69 L808.03,236.59 L808.58,238.50 L809.12,240.41 L809.67,242.33 L810.21,244.24 L810.75,246.16 L811.29,248.09 L811.82,250.01 L812.36,251.93 L812.89,253.86 L813.42,255.79 L813.95,257.72 L814.47,259.65 L815.00,261.58 L815.53,263.52 L816.05,265.45 L816.57,267.39 L817.09,269.32 L817.61,271.26 L818.13,273.19 L818.65,275.13 L819.17,277.07 L819.68,279.00 L820.20,280.94 L820.72,282.87 L821.23,284.80 L821.74,286.74 L822.26,288.67 L822.77,290.60 L823.29,292.53 L823.80,294.45 L824.31,296.38 L824.83,298.30 L825.34,300.23 L825.85,302.15 L826.37,304.06 L826.88,305.98 L827.40,307.89 L827.91,309.80 L828.43,311.71 L828.95,313.61 L829.46,315.51 L829.98,317.41 L830.50,319.30" fill="none" stroke="#ff0000" stroke-width="1.15" stroke-dasharray="8.5 8.3" stroke-dashoffset="0"/>
<path d="M630.50,65.10 L632.54,65.12 L634.56,65.15 L636.56,65.17 L638.56,65.20 L640.54,65.23 L642.52,65.26 L644.49,65.29 L646.46,65.32 L648.42,65.36 L650.39,65.39 L652.35,65.43 L654.31,65.46 L656.28,65.50 L658.26,65.54 L660.24,65.57 L662.23,65.61 L664.23,65.64 L666.23,65.69 L668.24,65.73 L670.25,65.79 L672.27,65.85 L674.29,65.93 L676.30,66.02 L678.32,66.12 L680.34,66.24 L682.35,66.38 L684.36,66.55 L686.37,66.73 L688.37,66.94 L690.37,67.17 L692.35,67.44 L694.33,67.73 L696.30,68.06 L698.25,68.42 L700.19,68.82 L702.12,69.25 L704.04,69.73 L705.94,70.25 L707.82,70.81 L709.69,71.41 L711.54,72.07 L713.36,72.77 L715.17,73.52 L716.96,74.33 L718.72,75.19 L720.45,76.10 L722.16,77.06 L723.85,78.07 L725.50,79.14 L727.13,80.26 L728.72,81.44 L730.29,82.67 L731.82,83.96 L733.32,85.30 L734.78,86.69 L736.20,88.12 L737.59,89.60 L738.94,91.12 L740.24,92.67 L741.51,94.24 L742.73,95.84 L743.92,97.46 L745.06,99.09 L746.16,100.74 L747.22,102.41 L748.24,104.10 L749.23,105.80 L750.19,107.52 L751.12,109.25 L752.01,111.00 L752.88,112.76 L753.71,114.54 L754.52,116.33 L755.31,118.13 L756.07,119.94 L756.82,121.76 L757.54,123.60 L758.24,125.44 L758.93,127.30 L759.60,129.16 L760.26,131.03 L760.90,132.91 L761.53,134.80 L762.16,136.70 L762.77,138.60 L763.38,140.51 L763.98,142.42 L764.59,144.34 L765.18,146.27 L765.78,148.19 L766.38,150.13 L766.98,152.06 L767.57,154.00 L768.16,155.94 L768.74,157.88 L769.31,159.82 L769.86,161.76 L770.40,163.70 L770.92,165.64 L771.42,167.58 L771.90,169.52 L772.37,171.46 L772.82,173.40 L773.27,175.33 L773.72,177.26 L774.16,179.18 L774.61,181.10 L775.06,183.02 L775.52,184.93 L775.99,186.84 L776.47,188.74 L776.97,190.63 L777.49,192.51 L778.04,194.39 L778.61,196.26 L779.21,198.12 L779.85,199.98 L780.51,201.82 L781.22,203.65 L781.97,205.47 L782.76,207.28 L783.60,209.08 L784.48,210.87 L785.40,212.65 L786.35,214.43 L787.32,216.20 L788.30,217.96 L789.30,219.73 L790.30,221.49 L791.29,223.26 L792.27,225.03 L793.24,226.81 L794.18,228.60 L795.09,230.39 L795.97,232.20 L796.80,234.01 L797.59,235.84 L798.33,237.69 L799.04,239.54 L799.71,241.40 L800.35,243.28 L800.95,245.16 L801.52,247.06 L802.07,248.96 L802.59,250.87 L803.09,252.78 L803.57,254.70 L804.03,256.63 L804.47,258.56 L804.90,260.50 L805.32,262.44 L805.73,264.38 L806.13,266.33 L806.52,268.28 L806.90,270.24 L807.27,272.19 L807.64,274.15 L808.00,276.11 L808.35,278.08 L808.70,280.04 L809.04,282.01 L809.38,283.97 L809.72,285.94 L810.05,287.91 L810.38,289.88 L810.71,291.85 L811.04,293.82 L811.37,295.78 L811.70,297.75 L812.03,299.72 L812.37,301.69 L812.71,303.65 L813.05,305.62 L813.39,307.58 L813.75,309.54 L814.10,311.50 L814.47,313.45 L814.84,315.40 L815.21,317.35 L815.60,319.30" fill="none" stroke="#1e90ff" stroke-width="1.2"/>
<line x1="630.5" y1="65.1" x2="899.0" y2="65.1" stroke="#000" stroke-opacity="0.3" stroke-width="1.6" stroke-dasharray="8.6 8.25"/>
</g>
<path d="M101.67,319.33v-2.9 M101.67,29.5v2.9 M108.58,319.33v-2.9 M108.58,29.5v2.9 M114.56,319.33v-2.9 M114.56,29.5v2.9 M119.84,319.33v-2.9 M119.84,29.5v2.9 M124.56,319.33v-5.7 M124.56,29.5v5.7 M155.63,319.33v-2.9 M155.63,29.5v2.9 M173.80,319.33v-2.9 M173.80,29.5v2.9 M186.69,319.33v-2.9 M186.69,29.5v2.9 M196.69,319.33v-2.9 M196.69,29.5v2.9 M204.86,319.33v-2.9 M204.86,29.5v2.9 M211.77,319.33v-2.9 M211.77,29.5v2.9 M217.75,319.33v-2.9 M217.75,29.5v2.9 M223.03,319.33v-2.9 M223.03,29.5v2.9 M227.75,319.33v-5.7 M227.75,29.5v5.7 M258.82,319.33v-2.9 M258.82,29.5v2.9 M276.99,319.33v-2.9 M276.99,29.5v2.9 M289.88,319.33v-2.9 M289.88,29.5v2.9 M299.88,319.33v-2.9 M299.88,29.5v2.9 M308.05,319.33v-2.9 M308.05,29.5v2.9 M314.96,319.33v-2.9 M314.96,29.5v2.9 M320.94,319.33v-2.9 M320.94,29.5v2.9 M326.22,319.33v-2.9 M326.22,29.5v2.9 M330.94,319.33v-5.7 M330.94,29.5v5.7 M93.5,312.81h2.9 M362.0,312.81h-2.9 M93.5,306.77h2.9 M362.0,306.77h-2.9 M93.5,301.36h5.7 M362.0,301.36h-5.7 M93.5,265.80h2.9 M362.0,265.80h-2.9 M93.5,245.00h2.9 M362.0,245.00h-2.9 M93.5,230.24h2.9 M362.0,230.24h-2.9 M93.5,218.79h2.9 M362.0,218.79h-2.9 M93.5,209.44h2.9 M362.0,209.44h-2.9 M93.5,201.53h2.9 M362.0,201.53h-2.9 M93.5,194.68h2.9 M362.0,194.68h-2.9 M93.5,188.64h2.9 M362.0,188.64h-2.9 M93.5,183.23h5.7 M362.0,183.23h-5.7 M93.5,147.67h2.9 M362.0,147.67h-2.9 M93.5,126.87h2.9 M362.0,126.87h-2.9 M93.5,112.11h2.9 M362.0,112.11h-2.9 M93.5,100.66h2.9 M362.0,100.66h-2.9 M93.5,91.31h2.9 M362.0,91.31h-2.9 M93.5,83.40h2.9 M362.0,83.40h-2.9 M93.5,76.55h2.9 M362.0,76.55h-2.9 M93.5,70.51h2.9 M362.0,70.51h-2.9 M93.5,65.10h5.7 M362.0,65.10h-5.7 M370.17,319.33v-2.9 M370.17,29.5v2.9 M377.08,319.33v-2.9 M377.08,29.5v2.9 M383.06,319.33v-2.9 M383.06,29.5v2.9 M388.34,319.33v-2.9 M388.34,29.5v2.9 M393.06,319.33v-5.7 M393.06,29.5v5.7 M424.13,319.33v-2.9 M424.13,29.5v2.9 M442.30,319.33v-2.9 M442.30,29.5v2.9 M455.19,319.33v-2.9 M455.19,29.5v2.9 M465.19,319.33v-2.9 M465.19,29.5v2.9 M473.36,319.33v-2.9 M473.36,29.5v2.9 M480.27,319.33v-2.9 M480.27,29.5v2.9 M486.25,319.33v-2.9 M486.25,29.5v2.9 M491.53,319.33v-2.9 M491.53,29.5v2.9 M496.25,319.33v-5.7 M496.25,29.5v5.7 M527.32,319.33v-2.9 M527.32,29.5v2.9 M545.49,319.33v-2.9 M545.49,29.5v2.9 M558.38,319.33v-2.9 M558.38,29.5v2.9 M568.38,319.33v-2.9 M568.38,29.5v2.9 M576.55,319.33v-2.9 M576.55,29.5v2.9 M583.46,319.33v-2.9 M583.46,29.5v2.9 M589.44,319.33v-2.9 M589.44,29.5v2.9 M594.72,319.33v-2.9 M594.72,29.5v2.9 M599.44,319.33v-5.7 M599.44,29.5v5.7 M362.0,312.81h2.9 M630.5,312.81h-2.9 M362.0,306.77h2.9 M630.5,306.77h-2.9 M362.0,301.36h5.7 M630.5,301.36h-5.7 M362.0,265.80h2.9 M630.5,265.80h-2.9 M362.0,245.00h2.9 M630.5,245.00h-2.9 M362.0,230.24h2.9 M630.5,230.24h-2.9 M362.0,218.79h2.9 M630.5,218.79h-2.9 M362.0,209.44h2.9 M630.5,209.44h-2.9 M362.0,201.53h2.9 M630.5,201.53h-2.9 M362.0,194.68h2.9 M630.5,194.68h-2.9 M362.0,188.64h2.9 M630.5,188.64h-2.9 M362.0,183.23h5.7 M630.5,183.23h-5.7 M362.0,147.67h2.9 M630.5,147.67h-2.9 M362.0,126.87h2.9 M630.5,126.87h-2.9 M362.0,112.11h2.9 M630.5,112.11h-2.9 M362.0,100.66h2.9 M630.5,100.66h-2.9 M362.0,91.31h2.9 M630.5,91.31h-2.9 M362.0,83.40h2.9 M630.5,83.40h-2.9 M362.0,76.55h2.9 M630.5,76.55h-2.9 M362.0,70.51h2.9 M630.5,70.51h-2.9 M362.0,65.10h5.7 M630.5,65.10h-5.7 M638.67,319.33v-2.9 M638.67,29.5v2.9 M645.58,319.33v-2.9 M645.58,29.5v2.9 M651.56,319.33v-2.9 M651.56,29.5v2.9 M656.84,319.33v-2.9 M656.84,29.5v2.9 M661.56,319.33v-5.7 M661.56,29.5v5.7 M692.63,319.33v-2.9 M692.63,29.5v2.9 M710.80,319.33v-2.9 M710.80,29.5v2.9 M723.69,319.33v-2.9 M723.69,29.5v2.9 M733.69,319.33v-2.9 M733.69,29.5v2.9 M741.86,319.33v-2.9 M741.86,29.5v2.9 M748.77,319.33v-2.9 M748.77,29.5v2.9 M754.75,319.33v-2.9 M754.75,29.5v2.9 M760.03,319.33v-2.9 M760.03,29.5v2.9 M764.75,319.33v-5.7 M764.75,29.5v5.7 M795.82,319.33v-2.9 M795.82,29.5v2.9 M813.99,319.33v-2.9 M813.99,29.5v2.9 M826.88,319.33v-2.9 M826.88,29.5v2.9 M836.88,319.33v-2.9 M836.88,29.5v2.9 M845.05,319.33v-2.9 M845.05,29.5v2.9 M851.96,319.33v-2.9 M851.96,29.5v2.9 M857.94,319.33v-2.9 M857.94,29.5v2.9 M863.22,319.33v-2.9 M863.22,29.5v2.9 M867.94,319.33v-5.7 M867.94,29.5v5.7 M630.5,312.81h2.9 M899.0,312.81h-2.9 M630.5,306.77h2.9 M899.0,306.77h-2.9 M630.5,301.36h5.7 M899.0,301.36h-5.7 M630.5,265.80h2.9 M899.0,265.80h-2.9 M630.5,245.00h2.9 M899.0,245.00h-2.9 M630.5,230.24h2.9 M899.0,230.24h-2.9 M630.5,218.79h2.9 M899.0,218.79h-2.9 M630.5,209.44h2.9 M899.0,209.44h-2.9 M630.5,201.53h2.9 M899.0,201.53h-2.9 M630.5,194.68h2.9 M899.0,194.68h-2.9 M630.5,188.64h2.9 M899.0,188.64h-2.9 M630.5,183.23h5.7 M899.0,183.23h-5.7 M630.5,147.67h2.9 M899.0,147.67h-2.9 M630.5,126.87h2.9 M899.0,126.87h-2.9 M630.5,112.11h2.9 M899.0,112.11h-2.9 M630.5,100.66h2.9 M899.0,100.66h-2.9 M630.5,91.31h2.9 M899.0,91.31h-2.9 M630.5,83.40h2.9 M899.0,83.40h-2.9 M630.5,76.55h2.9 M899.0,76.55h-2.9 M630.5,70.51h2.9 M899.0,70.51h-2.9 M630.5,65.10h5.7 M899.0,65.10h-5.7" fill="none" stroke="#262626" stroke-width="0.85"/>
<rect x="93.5" y="29.5" width="805.5" height="289.83" fill="none" stroke="#262626" stroke-width="0.95"/>
<line x1="362.0" y1="29.5" x2="362.0" y2="319.33" stroke="#262626" stroke-width="1"/>
<line x1="630.5" y1="29.5" x2="630.5" y2="319.33" stroke="#262626" stroke-width="1"/>
<line x1="295.2" y1="319.33" x2="307.3" y2="319.33" stroke="#ff0000" stroke-width="1.05"/>
<line x1="315.9" y1="319.33" x2="325.4" y2="319.33" stroke="#ff0000" stroke-width="1.05"/>
<line x1="336.7" y1="319.33" x2="346.2" y2="319.33" stroke="#ff0000" stroke-width="1.05"/>
<line x1="357.0" y1="319.33" x2="362.0" y2="319.33" stroke="#ff0000" stroke-width="1.05"/>
<line x1="568.0" y1="319.33" x2="572.7" y2="319.33" stroke="#ff0000" stroke-width="1.05"/>
<line x1="584.5" y1="319.33" x2="593.4" y2="319.33" stroke="#ff0000" stroke-width="1.05"/>
<line x1="605.3" y1="319.33" x2="614.2" y2="319.33" stroke="#ff0000" stroke-width="1.05"/>
<line x1="626.1" y1="319.33" x2="630.5" y2="319.33" stroke="#ff0000" stroke-width="1.05"/>
<line x1="853.3" y1="319.33" x2="862.2" y2="319.33" stroke="#ff0000" stroke-width="1.05"/>
<line x1="873" y1="319.33" x2="883" y2="319.33" stroke="#ff0000" stroke-width="1.05"/>
<line x1="894.9" y1="319.33" x2="899" y2="319.33" stroke="#ff0000" stroke-width="1.05"/>
<path d="M894.3,314.6L899,319.3" stroke="#000" stroke-width="1" fill="none"/>
<text x="89.3" y="70.89999999999999" font-size="16.5" text-anchor="end" textLength="28.4" lengthAdjust="spacingAndGlyphs">1.00</text>
<text x="89.3" y="189.03" font-size="16.5" text-anchor="end" textLength="28.4" lengthAdjust="spacingAndGlyphs">0.10</text>
<text x="89.3" y="307.16" font-size="16.5" text-anchor="end" textLength="28.4" lengthAdjust="spacingAndGlyphs">0.01</text>
<text x="124.9" y="339.8" font-size="16.5" text-anchor="middle">1</text>
<text x="228.1" y="339.8" font-size="16.5" text-anchor="middle">10</text>
<text x="331.2" y="339.8" font-size="16.5" text-anchor="middle">100</text>
<text x="227.8" y="356.6" font-size="16.5" text-anchor="middle" textLength="72.5" lengthAdjust="spacingAndGlyphs">θ (arcmin)</text>
<text x="317.6" y="51.1" font-size="17.2" text-anchor="start" textLength="31.8" lengthAdjust="spacingAndGlyphs">Q(a)</text>
<text x="393.4" y="339.8" font-size="16.5" text-anchor="middle">1</text>
<text x="496.6" y="339.8" font-size="16.5" text-anchor="middle">10</text>
<text x="599.7" y="339.8" font-size="16.5" text-anchor="middle">100</text>
<text x="496.2" y="356.6" font-size="16.5" text-anchor="middle" textLength="72.5" lengthAdjust="spacingAndGlyphs">θ (arcmin)</text>
<text x="587.2" y="51.1" font-size="17.2" text-anchor="start" textLength="31.0" lengthAdjust="spacingAndGlyphs">V(b)</text>
<text x="661.9" y="339.8" font-size="16.5" text-anchor="middle">1</text>
<text x="765.1" y="339.8" font-size="16.5" text-anchor="middle">10</text>
<text x="868.2" y="339.8" font-size="16.5" text-anchor="middle">100</text>
<text x="764.8" y="356.6" font-size="16.5" text-anchor="middle" textLength="72.5" lengthAdjust="spacingAndGlyphs">θ (arcmin)</text>
<text x="855.5" y="51.1" font-size="17.2" text-anchor="start" textLength="33.8" lengthAdjust="spacingAndGlyphs">W(c)</text>
<text transform="translate(48.4,191.6) rotate(-90)" font-size="17">b<tspan font-size="11" dy="-6.8">S</tspan><tspan dy="6.8">(θ)</tspan></text>
<line x1="104.5" y1="247.9" x2="130" y2="247.9" stroke="#ff0000" stroke-opacity="0.4" stroke-width="1.4" stroke-dasharray="8.5 7.8"/>
<line x1="104.5" y1="260.1" x2="137.3" y2="260.1" stroke="#1e90ff" stroke-opacity="0.65" stroke-width="1"/>
<text x="146.0" y="250.5" font-size="12.6" text-anchor="start" textLength="64.5" lengthAdjust="spacingAndGlyphs">Radio beam</text>
<text x="146.0" y="263.9" font-size="12.6" text-anchor="start" textLength="70" lengthAdjust="spacingAndGlyphs">Jupiter beam</text>
<path d="M99.80000000000001,280.7H106.0 M102.9,277.59999999999997V283.8 M100.42,278.22L105.38,283.18 M100.42,283.18L105.38,278.22" stroke="#000" stroke-width="0.9" fill="none"/>
<path d="M100.05000000000001,291.4H105.75 M102.9,288.54999999999995V294.25" stroke="#ff0000" stroke-width="0.65" fill="none"/>
<text x="110.0" y="283.8" font-size="11.2" text-anchor="start" textLength="167" lengthAdjust="spacingAndGlyphs">wmap7CMBFREE: Q(159): S≥1.10Jy</text>
<text x="110.0" y="294.1" font-size="11.2" text-anchor="start" textLength="167" lengthAdjust="spacingAndGlyphs">wmap7CMBFREE: Q(360): S≥0.00Jy</text>
<path d="M368.4,280.7H374.6 M371.5,277.59999999999997V283.8 M369.02,278.22L373.98,283.18 M369.02,283.18L373.98,278.22" stroke="#000" stroke-width="0.9" fill="none"/>
<path d="M368.65,291.4H374.35 M371.5,288.54999999999995V294.25" stroke="#ff0000" stroke-width="0.65" fill="none"/>
<text x="379.3" y="283.8" font-size="11.2" text-anchor="start" textLength="165.6" lengthAdjust="spacingAndGlyphs">wmap7CMBFREE: V(131): S≥1.10Jy</text>
<text x="379.3" y="294.1" font-size="11.2" text-anchor="start" textLength="165.6" lengthAdjust="spacingAndGlyphs">wmap7CMBFREE: V(314): S≥0.00Jy</text>
<path d="M637.35,280.7H643.5500000000001 M640.45,277.59999999999997V283.8 M637.97,278.22L642.93,283.18 M637.97,283.18L642.93,278.22" stroke="#000" stroke-width="0.9" fill="none"/>
<path d="M637.6,291.4H643.3000000000001 M640.45,288.54999999999995V294.25" stroke="#ff0000" stroke-width="0.65" fill="none"/>
<text x="647.6" y="283.8" font-size="11.2" text-anchor="start" textLength="168.1" lengthAdjust="spacingAndGlyphs">wmap7CMBFREE: W(112): S≥1.10Jy</text>
<text x="647.6" y="294.1" font-size="11.2" text-anchor="start" textLength="168.1" lengthAdjust="spacingAndGlyphs">wmap7CMBFREE: W(181): S≥0.00Jy</text>
</svg></body></html>
